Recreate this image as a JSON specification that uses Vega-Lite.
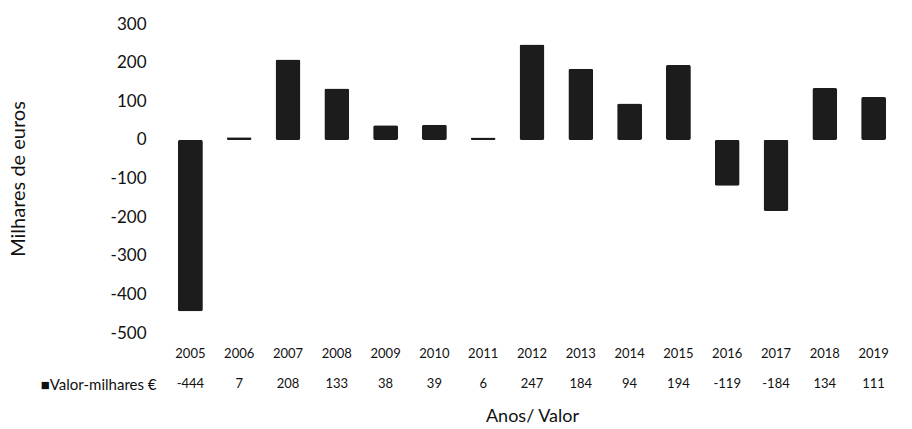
{
  "$schema": "https://vega.github.io/schema/vega-lite/v6.json",
  "background": "white",
  "padding": {"left": 8, "top": 15, "right": 4, "bottom": 4},
  "config": {
    "view": {"stroke": null},
    "font": "Lato",
    "axis": {"domain": false, "ticks": false, "grid": false, "labelColor": "#111", "titleColor": "#111", "labelFont": "Lato", "titleFont": "Lato", "titleFontWeight": "normal"}
  },
  "data": {
    "values": [
      {"year": "2005", "value": -444, "series": "■Valor-milhares €"},
      {"year": "2006", "value": 7, "series": "■Valor-milhares €"},
      {"year": "2007", "value": 208, "series": "■Valor-milhares €"},
      {"year": "2008", "value": 133, "series": "■Valor-milhares €"},
      {"year": "2009", "value": 38, "series": "■Valor-milhares €"},
      {"year": "2010", "value": 39, "series": "■Valor-milhares €"},
      {"year": "2011", "value": 6, "series": "■Valor-milhares €"},
      {"year": "2012", "value": 247, "series": "■Valor-milhares €"},
      {"year": "2013", "value": 184, "series": "■Valor-milhares €"},
      {"year": "2014", "value": 94, "series": "■Valor-milhares €"},
      {"year": "2015", "value": 194, "series": "■Valor-milhares €"},
      {"year": "2016", "value": -119, "series": "■Valor-milhares €"},
      {"year": "2017", "value": -184, "series": "■Valor-milhares €"},
      {"year": "2018", "value": 134, "series": "■Valor-milhares €"},
      {"year": "2019", "value": 111, "series": "■Valor-milhares €"}
    ]
  },
  "spacing": 12,
  "vconcat": [
    {
      "width": 732,
      "height": 309,
      "mark": {"type": "bar", "color": "#1c1c1c", "cornerRadius": 2},
      "encoding": {
        "x": {
          "field": "year", "type": "ordinal",
          "scale": {"paddingInner": 0.49, "paddingOuter": 0.245},
          "axis": {"title": null, "labelAngle": 0, "labelFontSize": 13, "labelPadding": 14}
        },
        "y": {
          "field": "value", "type": "quantitative",
          "scale": {"domain": [-500, 300], "nice": false},
          "axis": {"values": [-500, -400, -300, -200, -100, 0, 100, 200, 300], "labelExpr": "datum.value + ''", "labelFontSize": 17, "labelPadding": 20, "title": "Milhares de euros", "titleFontSize": 20, "titlePadding": 82}
        }
      }
    },
    {
      "width": 732,
      "height": 24,
      "mark": {"type": "text", "fontSize": 13, "color": "#111"},
      "encoding": {
        "x": {
          "field": "year", "type": "ordinal",
          "scale": {"paddingInner": 0.49, "paddingOuter": 0.245},
          "axis": {"labels": false, "title": "Anos/ Valor", "titleFontSize": 18, "titlePadding": 11}
        },
        "y": {
          "field": "series", "type": "nominal",
          "axis": {"title": null, "labelFontSize": 15, "labelPadding": 10}
        },
        "text": {"field": "value", "type": "nominal"}
      }
    }
  ]
}
